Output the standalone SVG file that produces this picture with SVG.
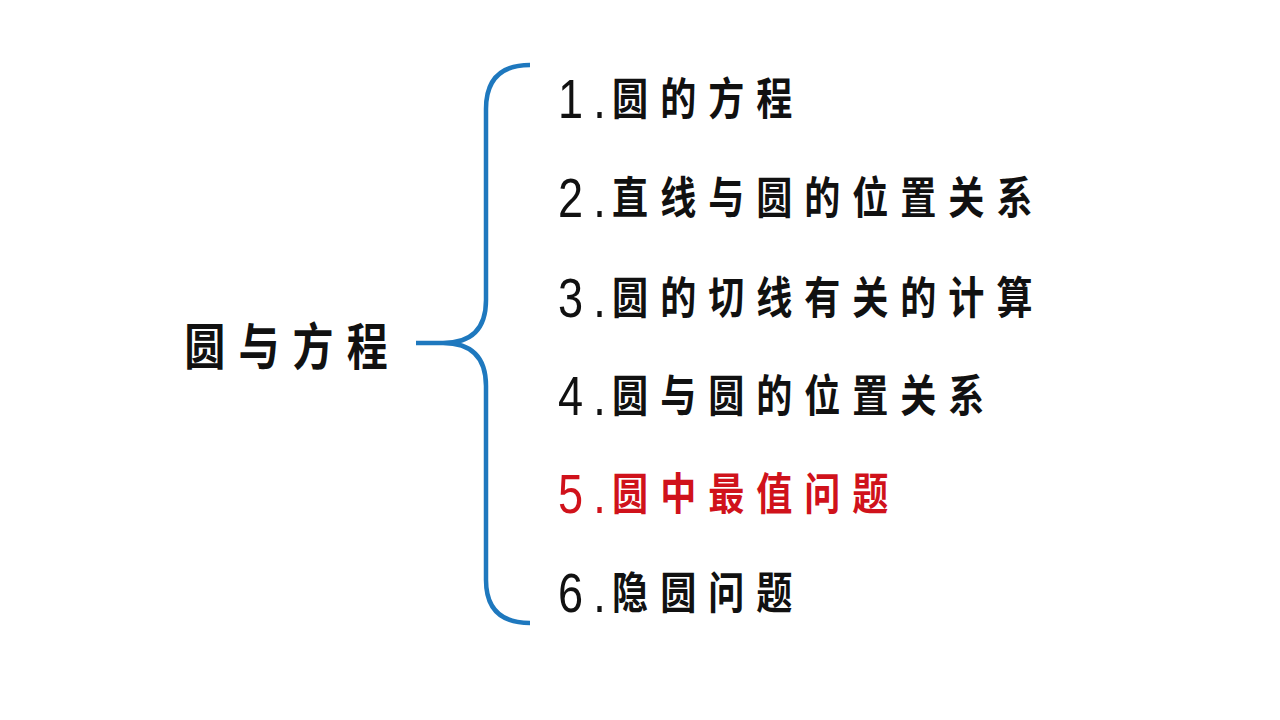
<svg xmlns="http://www.w3.org/2000/svg" width="1280" height="720" viewBox="0 0 1280 720">
  <style>
    .cjk { font-family: "Noto Sans CJK SC", "Noto Sans", sans-serif; font-size: 44px; font-weight: 700; letter-spacing: 14.6px; fill: #111111; }
    .num { font-family: "Liberation Sans", Arial, sans-serif; font-size: 55px; fill: #111111; }
    .title { font-family: "Noto Sans CJK SC", "Noto Sans", sans-serif; font-size: 50px; font-weight: 700; letter-spacing: 16px; fill: #111111; }
    .red .cjk, .red .num { fill: #D0121B; }
    .brace { fill: none; stroke: #1E78BE; stroke-width: 4.5; stroke-linecap: butt; }
  </style>
  <rect x="0" y="0" width="1280" height="720" fill="#FFFFFF"/>

  <g id="connectors">
    <path class="brace" d="M530,65 Q486,65 486,109 L486,300 Q486,343 443,343 L416,343 M443,343 Q486,343 486,386 L486,580 Q486,623 530,623"/>
  </g>

  <g id="title" transform="translate(186,365) scale(0.82,1)">
    <text class="title" x="-2" y="0">圆与方程</text>
  </g>

  <g id="item1" transform="translate(558,115) scale(0.82,1)">
    <text class="num" x="0" y="3">1</text>
    <text class="num" x="43" y="3">.</text>
    <text class="cjk" x="66">圆的方程</text>
  </g>

  <g id="item2" transform="translate(558,214) scale(0.82,1)">
    <text class="num" x="0" y="3">2</text>
    <text class="num" x="43" y="3">.</text>
    <text class="cjk" x="66">直线与圆的位置关系</text>
  </g>

  <g id="item3" transform="translate(558,314) scale(0.82,1)">
    <text class="num" x="0" y="3">3</text>
    <text class="num" x="43" y="3">.</text>
    <text class="cjk" x="66">圆的切线有关的计算</text>
  </g>

  <g id="item4" transform="translate(558,412) scale(0.82,1)">
    <text class="num" x="0" y="3">4</text>
    <text class="num" x="43" y="3">.</text>
    <text class="cjk" x="66">圆与圆的位置关系</text>
  </g>

  <g id="item5" class="red" transform="translate(558,510) scale(0.82,1)">
    <text class="num" x="0" y="3">5</text>
    <text class="num" x="43" y="3">.</text>
    <text class="cjk" x="66">圆中最值问题</text>
  </g>

  <g id="item6" transform="translate(558,609) scale(0.82,1)">
    <text class="num" x="0" y="3">6</text>
    <text class="num" x="43" y="3">.</text>
    <text class="cjk" x="66">隐圆问题</text>
  </g>
</svg>
